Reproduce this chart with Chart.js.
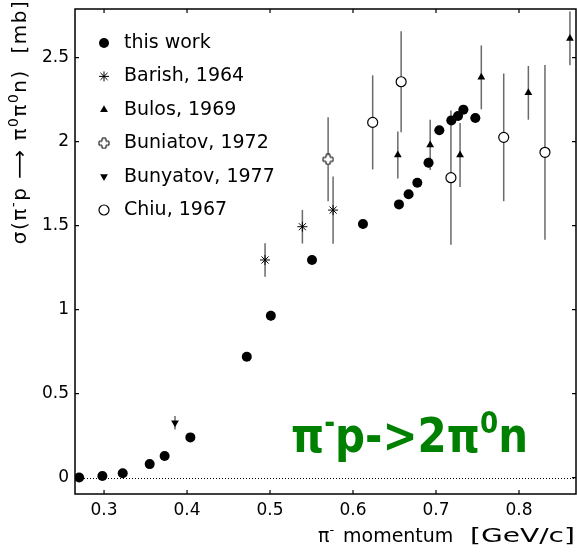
<!DOCTYPE html>
<html>
<head>
<meta charset="utf-8">
<script src="https://cdn.jsdelivr.net/npm/chart.js@4.4.0/dist/chart.umd.min.js"></script>
<style>
  html, body { margin: 0; padding: 0; background: #fff; }
  #wrap { width: 577px; height: 553px; }
</style>
</head>
<body>
<div id="wrap"><canvas id="c" width="577" height="553"></canvas></div>
<script>
'use strict';

// tick labels
const xTicks = [0.3, 0.4, 0.5, 0.6, 0.7, 0.8];
const yTicks = [0, 0.5, 1, 1.5, 2, 2.5];

// this work
const thisWorkX = [0.270, 0.298, 0.3225, 0.355, 0.373, 0.404, 0.472, 0.501, 0.5506, 0.612, 0.6554, 0.667, 0.6775, 0.691, 0.704, 0.7185, 0.7265, 0.733, 0.7474];
const thisWorkY = [0.0, 0.009, 0.025, 0.08, 0.128, 0.239, 0.719, 0.963, 1.295, 1.509, 1.626, 1.686, 1.755, 1.874, 2.067, 2.126, 2.152, 2.19, 2.14];
const thisWorkErr = [0, 0, 0, 0, 0, 0, 0.01, 0.03, 0.01, 0.03, 0.015, 0.015, 0.015, 0.03, 0.015, 0.02, 0.015, 0.015, 0.01];
const thisWorkXErr = [0, 0, 0, 0, 0, 0, 0.003, 0.003, 0.004, 0.004, 0.005, 0.005, 0.005, 0.006, 0.006, 0.006, 0.006, 0.006, 0.006];

// Barish, 1964
const barishX = [0.494, 0.539, 0.576];
const barishY = [1.295, 1.493, 1.592];
const barishErr = [0.1, 0.1, 0.2];

// Bulos, 1969
const bulosX = [0.654, 0.693, 0.729, 0.7546, 0.8113, 0.8614];
const bulosY = [1.92, 1.98, 1.92, 2.382, 2.29, 2.614];
const bulosErr = [0.14, 0.15, 0.19, 0.19, 0.16, 0.16];

// Buniatov, 1972
const buniatovX = [0.570];
const buniatovY = [1.894];
const buniatovErr = [0.25];

// Bunyatov, 1977
const bunyatovX = [0.3855];
const bunyatovY = [0.326];
const bunyatovErr = [0.04];

// Chiu, 1967
const chiuX = [0.6237, 0.658, 0.718, 0.7816, 0.8313];
const chiuY = [2.114, 2.356, 1.785, 2.025, 1.936];
const chiuErr = [0.28, 0.3, 0.4, 0.38, 0.52];

const FONT = '"DejaVu Sans", sans-serif';

function pts(xs, ys) { return xs.map((x, i) => ({ x, y: ys[i] })); }

// outlined plus marker for Buniatov
function plusMarker() {
    const c = document.createElement('canvas');
    c.width = 12; c.height = 12;
    const g = c.getContext('2d');
    const m = 6, a = 2, l = 5;
    g.beginPath();
    g.moveTo(m - a, m - l); g.lineTo(m + a, m - l); g.lineTo(m + a, m - a); g.lineTo(m + l, m - a);
    g.lineTo(m + l, m + a); g.lineTo(m + a, m + a); g.lineTo(m + a, m + l); g.lineTo(m - a, m + l);
    g.lineTo(m - a, m + a); g.lineTo(m - l, m + a); g.lineTo(m - l, m - a); g.lineTo(m - a, m - a);
    g.closePath();
    g.fillStyle = '#fff'; g.fill();
    g.strokeStyle = '#000'; g.lineWidth = 1; g.stroke();
    return c;
}
const plusImg = plusMarker();

const datasets = [
    { label: 'this work', data: pts(thisWorkX, thisWorkY), yErr: thisWorkErr, xErr: thisWorkXErr,
      pointStyle: 'circle', pointRadius: 5, backgroundColor: '#000', borderColor: '#000', borderWidth: 0 },
    { label: 'Barish, 1964', data: pts(barishX, barishY), yErr: barishErr,
      pointStyle: 'star', pointRadius: 5, backgroundColor: '#000', borderColor: '#000', borderWidth: 1 },
    { label: 'Bulos, 1969', data: pts(bulosX, bulosY), yErr: bulosErr,
      pointStyle: 'triangle', pointRadius: 4.5, backgroundColor: '#000', borderColor: '#000', borderWidth: 0 },
    { label: 'Buniatov, 1972', data: pts(buniatovX, buniatovY), yErr: buniatovErr,
      pointStyle: plusImg, pointRadius: 5, backgroundColor: '#fff', borderColor: '#000', borderWidth: 1 },
    { label: 'Bunyatov, 1977', data: pts(bunyatovX, bunyatovY), yErr: bunyatovErr,
      pointStyle: 'triangle', rotation: 180, pointRadius: 4.5, backgroundColor: '#000', borderColor: '#000', borderWidth: 0 },
    { label: 'Chiu, 1967', data: pts(chiuX, chiuY), yErr: chiuErr,
      pointStyle: 'circle', pointRadius: 5, backgroundColor: '#fff', borderColor: '#000', borderWidth: 1.2 }
];

// error bars under the markers
const errorBars = {
    id: 'errorBars',
    beforeDatasetsDraw(chart) {
        const { ctx, scales: { x, y } } = chart;
        ctx.save();
        ctx.strokeStyle = '#6a6a6a';
        ctx.lineWidth = 1.5;
        chart.data.datasets.forEach(ds => {
            ds.data.forEach((p, i) => {
                const px = x.getPixelForValue(p.x), py = y.getPixelForValue(p.y);
                const e = ds.yErr ? ds.yErr[i] : 0;
                if (e) {
                    ctx.beginPath();
                    ctx.moveTo(px, y.getPixelForValue(p.y - e));
                    ctx.lineTo(px, y.getPixelForValue(p.y + e));
                    ctx.stroke();
                }
                const xe = ds.xErr ? ds.xErr[i] : 0;
                if (xe) {
                    ctx.beginPath();
                    ctx.moveTo(x.getPixelForValue(p.x - xe), py);
                    ctx.lineTo(x.getPixelForValue(p.x + xe), py);
                    ctx.stroke();
                }
            });
        });
        ctx.restore();
    }
};

// frame, inward ticks, dotted zero line
const frame = {
    id: 'frame',
    beforeDatasetsDraw(chart) {
        const { ctx, chartArea: a, scales: { x, y } } = chart;
        ctx.save();
        ctx.strokeStyle = '#000';
        ctx.lineWidth = 1;
        ctx.setLineDash([1, 2]);
        const y0 = Math.round(y.getPixelForValue(0)) + 0.5;
        ctx.beginPath(); ctx.moveTo(a.left, y0); ctx.lineTo(a.right, y0); ctx.stroke();
        ctx.setLineDash([]);
        ctx.lineWidth = 1.5;
        ctx.strokeRect(a.left, a.top, a.right - a.left, a.bottom - a.top);
        ctx.lineWidth = 1.2;
        ctx.beginPath();
        xTicks.forEach(v => {
            const px = x.getPixelForValue(v);
            ctx.moveTo(px, a.bottom); ctx.lineTo(px, a.bottom - 4);
            ctx.moveTo(px, a.top); ctx.lineTo(px, a.top + 4);
        });
        yTicks.forEach(v => {
            const py = y.getPixelForValue(v);
            ctx.moveTo(a.left, py); ctx.lineTo(a.left + 4, py);
            ctx.moveTo(a.right, py); ctx.lineTo(a.right - 4, py);
        });
        ctx.stroke();
        ctx.restore();
    }
};

// draw a run of [text, isSuperscript] pieces starting at (x, y) baseline
function drawPieces(ctx, pieces, x, y, size, supSize, rise, weight) {
    let cx = x;
    pieces.forEach(([t, sup]) => {
        ctx.font = `${weight || ''} ${sup ? supSize : size}px ${FONT}`;
        ctx.fillText(t, cx, sup ? y - rise : y);
        cx += ctx.measureText(t).width;
    });
    return cx - x;
}
function measurePieces(ctx, pieces, size, supSize, weight) {
    let w = 0;
    pieces.forEach(([t, sup]) => {
        ctx.font = `${weight || ''} ${sup ? supSize : size}px ${FONT}`;
        w += ctx.measureText(t).width;
    });
    return w;
}

const legendTitles = {
    id: 'legendTitles',
    afterDraw(chart) {
        const { ctx } = chart;
        const h = Chart.helpers;
        ctx.save();
        ctx.textBaseline = 'middle';
        ctx.textAlign = 'left';
        chart.data.datasets.forEach((ds, i) => {
            const ly = 43 + i * 33.4;
            ctx.fillStyle = ds.backgroundColor;
            ctx.strokeStyle = ds.borderColor;
            ctx.lineWidth = ds.borderWidth;
            h.drawPoint(ctx, { pointStyle: ds.pointStyle, radius: ds.pointRadius, rotation: ds.rotation || 0, borderWidth: ds.borderWidth }, 104, ly);
            ctx.fillStyle = '#000';
            ctx.font = `19px ${FONT}`;
            ctx.fillText(ds.label, 124, ly);
        });

        // x axis title
        ctx.textBaseline = 'alphabetic';
        ctx.fillStyle = '#000';
        drawPieces(ctx, [['\u03c0', false], ['-', true]], 318, 542, 19, 13, 8);
        ctx.font = `19px ${FONT}`;
        ctx.fillText('momentum', 343, 542);
        const gw = ctx.measureText('[GeV/c]').width;
        ctx.save();
        ctx.translate(470, 542);
        ctx.scale(105 / gw, 1);
        ctx.fillText('[GeV/c]', 0, 0);
        ctx.restore();

        // y axis title
        ctx.letterSpacing = '1.5px';
        const yt = [['\u03c3(\u03c0', false], ['-', true], ['p \u27f6 \u03c0', false], ['0', true], ['\u03c0', false], ['0', true], ['n)  [mb]', false]];
        const yw = measurePieces(ctx, yt, 20, 14);
        ctx.save();
        ctx.translate(26, 122);
        ctx.rotate(-Math.PI / 2);
        drawPieces(ctx, yt, -yw / 2, 0, 20, 14, 8);
        ctx.restore();
        ctx.letterSpacing = '0px';

        // reaction label
        const rt = [['\u03c0', false], ['-', true], ['p->2\u03c0', false], ['0', true], ['n', false]];
        ctx.fillStyle = '#008000';
        const rw = measurePieces(ctx, rt, 48, 30, 'bold');
        ctx.save();
        ctx.translate(291, 452);
        ctx.scale(237 / rw, 1);
        drawPieces(ctx, rt, 0, 0, 48, 30, 19, 'bold');
        ctx.restore();
        ctx.restore();
    }
};

// no extra room for tick labels: the frame sits where the original has it
function noPad(s) { s.paddingTop = 0; s.paddingBottom = 0; s.paddingLeft = 0; s.paddingRight = 0; }

new Chart(document.getElementById('c'), {
    type: 'scatter',
    data: { datasets },
    options: {
        responsive: false,
        animation: false,
        layout: { autoPadding: false, padding: { top: 9, right: 1, left: 0, bottom: 0 } },
        plugins: { legend: { display: false }, tooltip: { enabled: false } },
        elements: { point: { hoverRadius: 5 } },
        scales: {
            x: {
                type: 'linear', min: 0.265, max: 0.8687,
                afterBuildTicks: s => { s.ticks = xTicks.map(v => ({ value: v })); },
                afterFit: s => { s.height = 59; noPad(s); },
                grid: { display: false, drawTicks: false },
                border: { display: false },
                ticks: { color: '#000', padding: 6, font: { family: FONT, size: 17 }, callback: v => v.toFixed(1) }
            },
            y: {
                type: 'linear', min: -0.098, max: 2.789,
                afterBuildTicks: s => { s.ticks = yTicks.map(v => ({ value: v })); },
                afterFit: s => { s.width = 75; noPad(s); },
                grid: { display: false, drawTicks: false },
                border: { display: false },
                ticks: { color: '#000', padding: 6, font: { family: FONT, size: 17 }, callback: v => String(v) }
            }
        }
    },
    plugins: [frame, errorBars, legendTitles]
});
</script>
</body>
</html>
